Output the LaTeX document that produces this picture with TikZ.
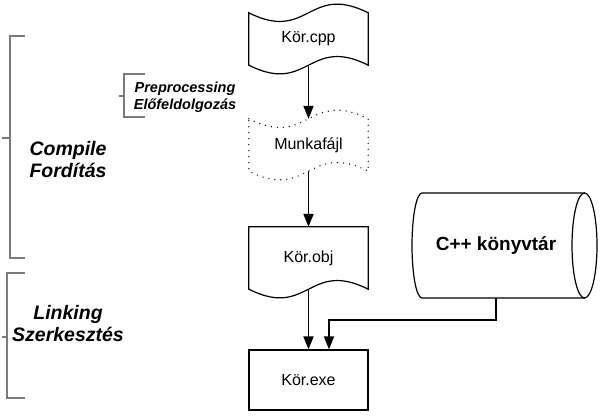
\documentclass[tikz,border=0pt]{standalone}
\usepackage{fontspec}
\setmainfont{Liberation Sans}
\usepackage{xcolor}
\definecolor{bracketGray}{HTML}{7A7A7A}
\usepackage{tikz}
\usetikzlibrary{shapes.geometric, arrows.meta, positioning, calc}

% wavy top and bottom (punched tape)
\newcommand{\tapeShape}[2]{%
  \draw[#2] (#1.north west) .. controls ($(#1.north)+(0,30)$) and ($(#1.north)+(0,-30)$) .. (#1.north east)
    -- (#1.south east) .. controls ($(#1.south)+(0,-30)$) and ($(#1.south)+(0,30)$) .. (#1.south west) -- cycle;}
% flat top, wavy bottom (document)
\newcommand{\docShape}[2]{%
  \draw[#2] (#1.north west) -- (#1.north east)
    -- (#1.south east) .. controls ($(#1.south)+(0,-30)$) and ($(#1.south)+(0,30)$) .. (#1.south west) -- cycle;}

\begin{document}
\begin{tikzpicture}[
        x=1pt, y=-1pt,
        fileNode/.style={
            minimum width=119pt,
            minimum height=52pt,
            inner sep=0pt,
            font=\fontsize{16}{19}\selectfont
        },
        fileLine/.style={
            line width=1.2pt
        },
        tmpLine/.style={
            line width=1.4pt,
            dash pattern=on 0pt off 6pt,
            line cap=round
        },
        libNode/.style={
            minimum height=105pt,
            inner sep=0pt,
            font=\fontsize{19}{22}\selectfont\bfseries
        },
        flowArrow/.style={
            -{Triangle[length=13pt,width=10pt]},
            line width=1.8pt
        },
        bracketLine/.style={
            bracketGray,
            line width=1.4pt
        },
        stepLabel/.style={
            align=center,
            font=\fontsize{19.5}{22}\selectfont\bfseries\itshape
        },
        subLabel/.style={
            align=center,
            font=\fontsize{14.5}{17}\selectfont\bfseries\itshape
        }
    ]
    \useasboundingbox (0,0) rectangle (604,417);

    % Files in the middle column
    \node[fileNode] (cpp) at (308.5, 39) {Kör.cpp};
    \tapeShape{cpp}{fileLine}
    \node[fileNode] (tmp) at (308.5, 145) {Munkafájl};
    \tapeShape{tmp}{tmpLine}
    \node[fileNode, minimum height=62pt] (obj) at (308.5, 258) {Kör.obj};
    \docShape{obj}{fileLine}
    \node[fileNode, minimum height=60pt, draw, line width=1.2pt] (exe) at (308.5, 380) {Kör.exe};

    % Library cylinder on the right
    \draw[fileLine] (585,193) -- (422,193) arc[start angle=270, end angle=90, x radius=10, y radius=52.5] -- (585,298);
    \draw[fileLine] (584.5,245.5) ellipse[x radius=12.5, y radius=52.5];
    \node[libNode] (lib) at (496, 245.5) {C++ könyvtár};

    % Connections
    \draw[flowArrow] (cpp.south) -- (tmp.north);
    \draw[flowArrow] (tmp.south) -- (obj.north);
    \draw[flowArrow] (obj.south) -- (exe.north);
    \coordinate (libBend) at (329, 320);
    \draw[flowArrow] (lib.south) |- (libBend) -- (libBend |- exe.north);

    % Brackets on the left
    \draw[bracketLine] (25,36) -- (10,36) -- (10,258) -- (25,258);
    \draw[bracketLine] (2,138) -- (10,138);
    \draw[bracketLine] (145,74) -- (124,74) -- (124,117) -- (145,117);
    \draw[bracketLine] (119,96) -- (124,96);
    \draw[bracketLine] (25,273) -- (7,273) -- (7,398) -- (25,398);
    \draw[bracketLine] (2,337) -- (7,337);

    \node[stepLabel] (compile) at (68, 160) {Compile\\Fordítás};
    \node[subLabel] (prep) at (185, 97) {Preprocessing\\Előfeldolgozás};
    \node[stepLabel] (link) at (68, 324) {Linking\\Szerkesztés};
\end{tikzpicture}
\end{document}
